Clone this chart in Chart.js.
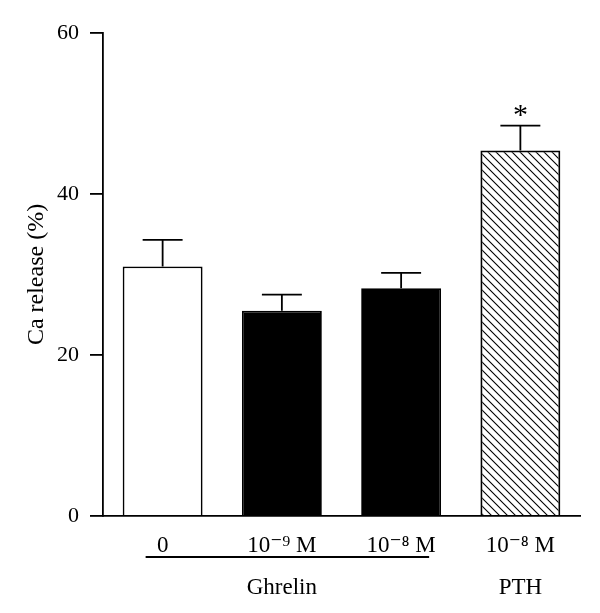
<!DOCTYPE html>
<html>
<head>
<meta charset="utf-8">
<script src="https://cdn.jsdelivr.net/npm/chart.js@4.4.1/dist/chart.umd.min.js"></script>
<style>
  html, body { margin: 0; padding: 0; background: #fff; }
  #wrap { width: 600px; height: 613px; position: relative; }
</style>
</head>
<body>
<div id="wrap"><canvas id="chart"></canvas></div>
<script>
const CATEGORIES = ['0', '10\u207b\u2079 M', '10\u207b\u2078 M', '10\u207b\u2078 M'];
const GROUPS = ['', 'Ghrelin', '', 'PTH'];
const CA_RELEASE = [31.0, 25.5, 28.3, 45.4];
const SEM = [3.3, 2.0, 1.9, 3.1];
const SIGNIFICANCE = ['', '', '', '*'];
const GHRELIN_SPAN = [0, 2]; // first and last category under the Ghrelin line
const Y_MIN = 0;
const Y_MAX = 60;
const Y_STEP = 20;

const FONT = "'Liberation Serif', 'DejaVu Serif', serif";

function makeHatch() {
  const s = 8;
  const c = document.createElement('canvas');
  c.width = s;
  c.height = s;
  const g = c.getContext('2d');
  g.strokeStyle = '#000';
  g.lineWidth = 1.1;
  g.beginPath();
  g.moveTo(0, 0); g.lineTo(s, s);
  g.moveTo(-2, s - 2); g.lineTo(2, s + 2);
  g.moveTo(s - 2, -2); g.lineTo(s + 2, 2);
  g.stroke();
  return g.createPattern(c, 'repeat');
}

const hatch = makeHatch();
const barFills = ['#ffffff', '#000000', '#000000', hatch];

// error bars (upper only), significance marks and the Ghrelin bracket line
const annotations = {
  id: 'annotations',
  afterDatasetsDraw(chart) {
    const { ctx, scales: { x, y } } = chart;
    const bars = chart.getDatasetMeta(0).data;
    ctx.save();
    ctx.strokeStyle = '#000';
    ctx.lineWidth = 1.8;
    bars.forEach((bar, i) => {
      const yTop = y.getPixelForValue(CA_RELEASE[i] + SEM[i]);
      const half = bar.width / 4;
      ctx.beginPath();
      ctx.moveTo(bar.x, bar.y);
      ctx.lineTo(bar.x, yTop);
      ctx.moveTo(bar.x - half, yTop);
      ctx.lineTo(bar.x + half, yTop);
      ctx.stroke();
      if (SIGNIFICANCE[i]) {
        ctx.fillStyle = '#000';
        ctx.font = `30px ${FONT}`;
        ctx.textAlign = 'center';
        ctx.textBaseline = 'alphabetic';
        ctx.fillText(SIGNIFICANCE[i], bar.x, yTop - 2);
      }
    });
    const lineY = y.bottom + 41;
    ctx.beginPath();
    ctx.moveTo(x.getPixelForValue(GHRELIN_SPAN[0]) - 17, lineY);
    ctx.lineTo(x.getPixelForValue(GHRELIN_SPAN[1]) + 28, lineY);
    ctx.stroke();
    ctx.restore();
  },
};

new Chart(document.getElementById('chart'), {
  type: 'bar',
  data: {
    labels: CATEGORIES.map((c, i) => [c, GROUPS[i]]),
    datasets: [{
      data: CA_RELEASE,
      backgroundColor: barFills,
      borderColor: '#000',
      borderWidth: 1.8,
      categoryPercentage: 1,
      barPercentage: 0.67,
    }],
  },
  options: {
    responsive: true,
    maintainAspectRatio: false,
    animation: false,
    layout: { padding: { top: 33, right: 20, left: 0, bottom: 0 } },
    plugins: { legend: { display: false }, tooltip: { enabled: false } },
    scales: {
      x: {
        grid: { display: false },
        border: { display: true, color: '#000', width: 1.8 },
        ticks: { color: '#000', padding: 1, font: { family: FONT, size: 23, lineHeight: 1.83 } },
        afterFit(scale) { scale.height = 97; },
      },
      y: {
        min: Y_MIN,
        max: Y_MAX,
        grid: { drawOnChartArea: false, drawTicks: true, tickLength: 13, color: '#000', lineWidth: 1.8 },
        border: { display: true, color: '#000', width: 1.8 },
        ticks: { stepSize: Y_STEP, color: '#000', padding: 11, font: { family: FONT, size: 22 } },
        title: {
          display: true,
          text: 'Ca release (%)',
          color: '#000',
          font: { family: FONT, size: 24 },
          padding: { top: 22, bottom: 0 },
        },
        afterFit(scale) { scale.width = 103; },
      },
    },
  },
  plugins: [annotations],
});
</script>
</body>
</html>
